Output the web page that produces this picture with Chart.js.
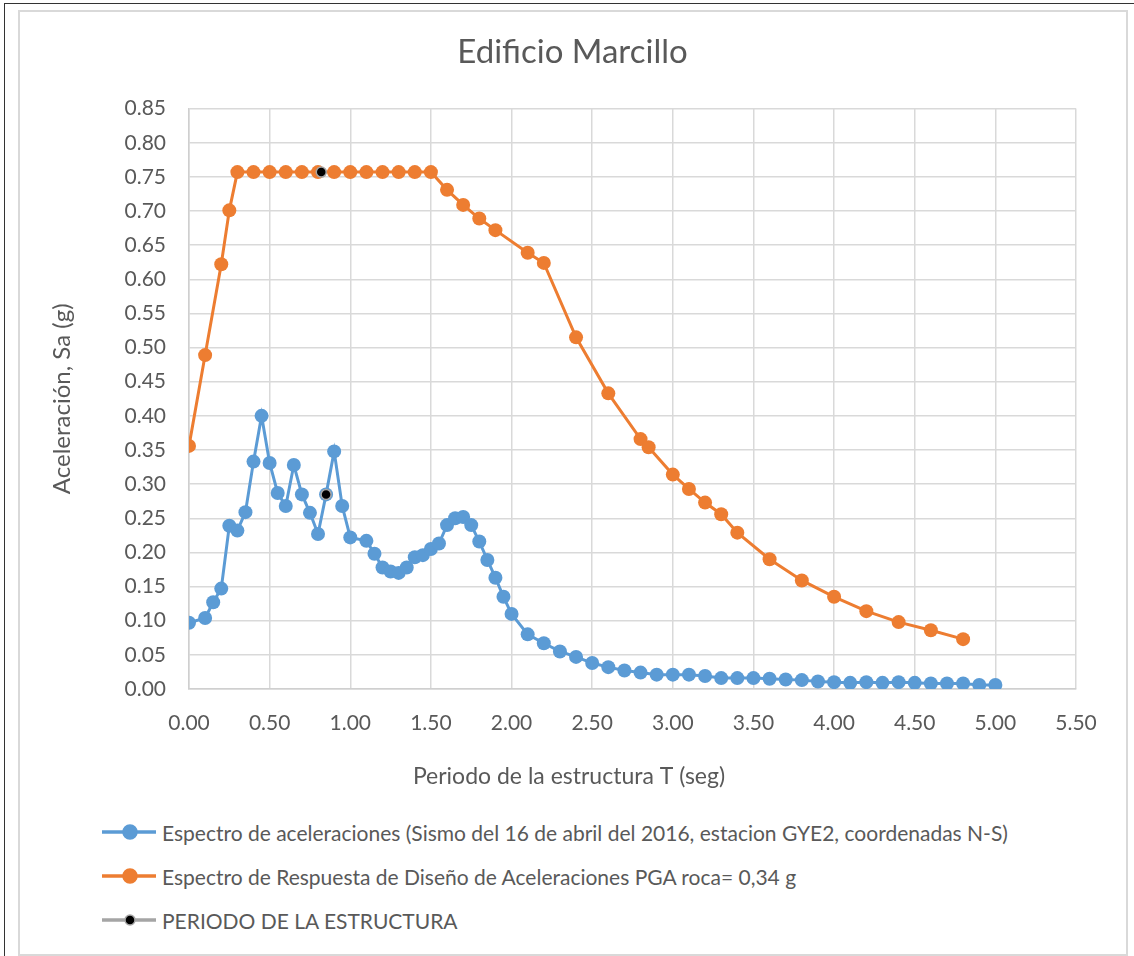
<!DOCTYPE html>
<html>
<head>
<meta charset="utf-8">
<script src="https://cdn.jsdelivr.net/npm/chart.js@4.4.1/dist/chart.umd.min.js"></script>
<style>
  html, body { margin: 0; padding: 0; background: #fff; }
  body { width: 1134px; height: 956px; position: relative; overflow: hidden; font-family: Lato, "Open Sans", sans-serif; }
  #outer { position: absolute; left: 4px; top: 3px; width: 1130px; height: 953px; border-left: 1.5px solid #333; border-top: 1.5px solid #333; }
  #frame { position: absolute; left: 18px; top: 10px; width: 1106px; height: 942px; border: 2px solid #d9d9d9; }
  #chartBox { position: absolute; left: 0; top: 0; width: 1134px; height: 800px; }
  .leg { position: absolute; left: 102px; height: 24px; display: flex; align-items: center; font-size: 21px; color: #595959; white-space: nowrap; }
  .leg svg { margin-right: 6px; }
</style>
</head>
<body>
<div id="outer"></div>
<div id="frame"></div>
<div id="chartBox"><canvas id="spectrum"></canvas></div>
<div id="legend"></div>
<script>
// Periodo T (seg) y Sa (g) de cada serie
const registroT = [0, 0.1, 0.15, 0.2, 0.25, 0.3, 0.35, 0.4, 0.45, 0.5, 0.55, 0.6, 0.65, 0.7, 0.75, 0.8, 0.85, 0.9, 0.95, 1.0,
  1.1, 1.15, 1.2, 1.25, 1.3, 1.35, 1.4, 1.45, 1.5, 1.55, 1.6, 1.65, 1.7, 1.75, 1.8, 1.85, 1.9, 1.95, 2.0,
  2.1, 2.2, 2.3, 2.4, 2.5, 2.6, 2.7, 2.8, 2.9, 3.0, 3.1, 3.2, 3.3, 3.4, 3.5, 3.6, 3.7, 3.8, 3.9, 4.0,
  4.1, 4.2, 4.3, 4.4, 4.5, 4.6, 4.7, 4.8, 4.9, 5.0];
const registroSa = [0.097, 0.104, 0.127, 0.147, 0.239, 0.232, 0.259, 0.333, 0.400, 0.331, 0.287, 0.268, 0.328, 0.285, 0.258, 0.227, 0.285, 0.348, 0.268, 0.222,
  0.217, 0.198, 0.178, 0.172, 0.170, 0.178, 0.193, 0.196, 0.205, 0.213, 0.240, 0.250, 0.252, 0.240, 0.216, 0.189, 0.163, 0.135, 0.110,
  0.080, 0.067, 0.055, 0.047, 0.038, 0.032, 0.027, 0.024, 0.021, 0.021, 0.021, 0.019, 0.016, 0.016, 0.016, 0.015, 0.014, 0.013, 0.011, 0.010,
  0.009, 0.010, 0.009, 0.010, 0.009, 0.008, 0.008, 0.008, 0.006, 0.006];

const disenoT = [0, 0.1, 0.2, 0.25, 0.3, 0.4, 0.5, 0.6, 0.7, 0.8, 0.9, 1.0, 1.1, 1.2, 1.3, 1.4, 1.5,
  1.6, 1.7, 1.8, 1.9, 2.1, 2.2, 2.4, 2.6, 2.8, 2.85, 3.0, 3.1, 3.2, 3.3, 3.4, 3.6, 3.8, 4.0, 4.2, 4.4, 4.6, 4.8];
const disenoSa = [0.356, 0.489, 0.622, 0.701, 0.757, 0.757, 0.757, 0.757, 0.757, 0.757, 0.757, 0.757, 0.757, 0.757, 0.757, 0.757, 0.757,
  0.731, 0.709, 0.689, 0.672, 0.639, 0.624, 0.515, 0.433, 0.366, 0.354, 0.314, 0.293, 0.273, 0.256, 0.229, 0.190, 0.159, 0.135, 0.114, 0.098, 0.086, 0.073];

const periodoT = [0.82, 0.85];
const periodoSa = [0.757, 0.285];

const seriesNames = [
  'Espectro de aceleraciones (Sismo del 16 de abril del 2016, estacion GYE2, coordenadas N-S)',
  'Espectro de Respuesta de Diseño de Aceleraciones PGA roca= 0,34 g',
  'PERIODO DE LA ESTRUCTURA'
];
const xAxisTitle = 'Periodo de la estructura T (seg)';

const azul = '#5B9BD5';
const naranja = '#ED7D31';
const gris = '#A5A5A5';
const textColor = '#595959';
const fontFam = "Lato, 'Open Sans', sans-serif";

function toPoints(xs, ys) {
  return xs.map((x, i) => ({ x: x, y: ys[i] }));
}

// Excel centra el título del eje X en todo el gráfico, no en el área de trazado
const xTitlePlugin = {
  id: 'xTitle',
  afterDraw(chart) {
    const c = chart.ctx;
    c.save();
    c.font = '23px ' + fontFam;
    c.fillStyle = textColor;
    c.textAlign = 'center';
    c.textBaseline = 'middle';
    c.fillText(xAxisTitle, chart.width / 2 + 2, 777);
    c.restore();
  }
};

const ctx = document.getElementById('spectrum').getContext('2d');
new Chart(ctx, {
  type: 'line',
  data: {
    datasets: [
      {
        label: seriesNames[2],
        data: toPoints(periodoT, periodoSa),
        showLine: false,
        pointRadius: 5,
        pointBackgroundColor: '#000',
        pointBorderColor: gris,
        pointBorderWidth: 1.5,
        borderColor: gris,
        order: 0
      },
      {
        label: seriesNames[0],
        data: toPoints(registroT, registroSa),
        borderColor: azul,
        backgroundColor: azul,
        borderWidth: 3,
        pointRadius: 7,
        pointBackgroundColor: azul,
        pointBorderColor: azul,
        pointBorderWidth: 0,
        order: 2
      },
      {
        label: seriesNames[1],
        data: toPoints(disenoT, disenoSa),
        borderColor: naranja,
        backgroundColor: naranja,
        borderWidth: 3,
        pointRadius: 7,
        pointBackgroundColor: naranja,
        pointBorderColor: naranja,
        pointBorderWidth: 0,
        order: 1
      }
    ]
  },
  options: {
    responsive: true,
    maintainAspectRatio: false,
    animation: false,
    layout: { padding: { left: 69, right: 58, top: 0, bottom: 0 } },
    plugins: {
      legend: { display: false },
      tooltip: { enabled: false },
      title: {
        display: true,
        text: 'Edificio Marcillo',
        color: textColor,
        font: { family: fontFam, size: 33, weight: 'normal' },
        padding: { top: 33, bottom: 36 }
      }
    },
    scales: {
      x: {
        type: 'linear',
        min: 0,
        max: 5.5,
        afterFit: function(scale) { scale.height = 111; },
        ticks: {
          stepSize: 0.5,
          padding: 22,
          color: textColor,
          font: { family: fontFam, size: 21 },
          callback: v => v.toFixed(2)
        },
        grid: { color: '#d9d9d9', lineWidth: 1.5, drawTicks: false },
        border: { color: '#cfcfcf', width: 1.5 }
      },
      y: {
        min: 0,
        max: 0.85,
        afterFit: function(scale) { scale.width = 120; },
        ticks: {
          stepSize: 0.05,
          padding: 23,
          color: textColor,
          font: { family: fontFam, size: 21 },
          callback: v => v.toFixed(2)
        },
        grid: { color: '#d9d9d9', lineWidth: 1.5, drawTicks: false },
        border: { color: '#cfcfcf', width: 1.5 },
        title: {
          display: true,
          text: 'Aceleración, Sa (g)',
          color: textColor,
          font: { family: fontFam, size: 24 },
          padding: { top: -21, bottom: 4 }
        }
      }
    }
  },
  plugins: [xTitlePlugin]
});

// leyenda con línea y marcador, como en Excel
const legendColors = [
  { line: azul, fill: azul, stroke: azul, r: 7 },
  { line: naranja, fill: naranja, stroke: naranja, r: 7 },
  { line: gris, fill: '#000', stroke: gris, r: 5 }
];
const legendBox = document.getElementById('legend');
seriesNames.forEach((name, i) => {
  const c = legendColors[i];
  const row = document.createElement('div');
  row.className = 'leg';
  row.style.top = (820 + i * 44) + 'px';
  row.innerHTML =
    '<svg width="54" height="20"><line x1="0" y1="10" x2="54" y2="10" stroke="' + c.line + '" stroke-width="3.5"/>' +
    '<circle cx="28" cy="10" r="' + c.r + '" fill="' + c.fill + '" stroke="' + c.stroke + '" stroke-width="1.5"/></svg>' +
    '<span>' + name + '</span>';
  legendBox.appendChild(row);
});
</script>
</body>
</html>
